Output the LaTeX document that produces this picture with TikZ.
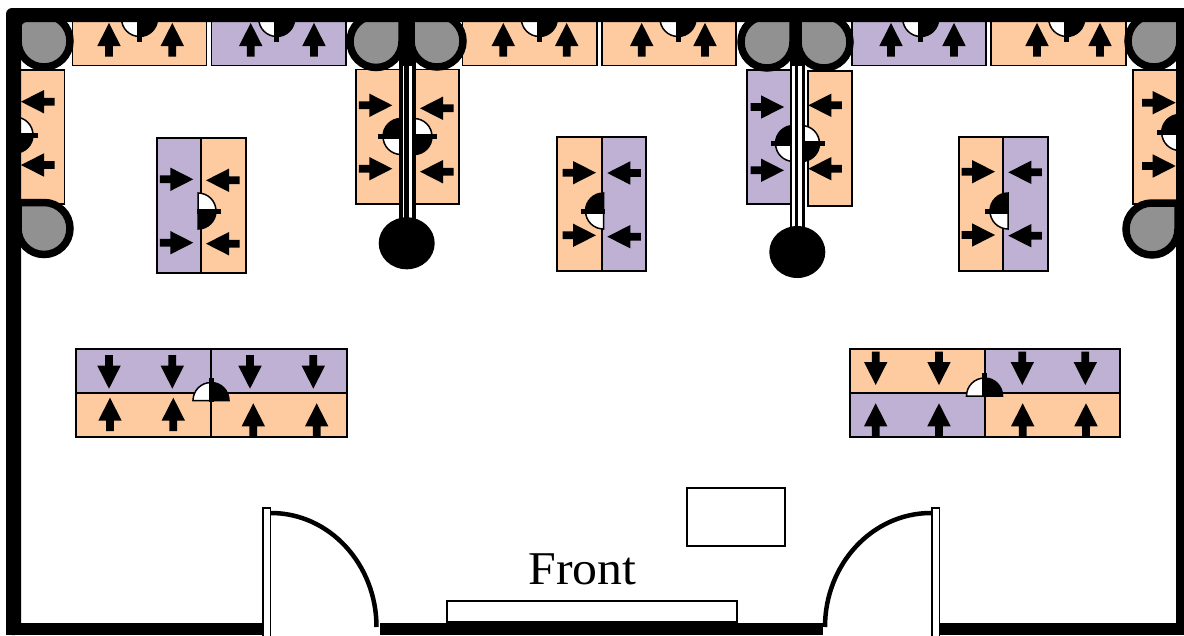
\documentclass[tikz,border=0pt]{standalone}
\usepackage{fontspec}
\newfontfamily\frontfont[FakeStretch=1.06]{Liberation Serif}
\definecolor{deskO}{HTML}{FDCB9F}
\definecolor{deskP}{HTML}{BFB1D3}
\definecolor{chairG}{HTML}{919191}
\tikzset{
  deskbox/.style={draw=black,line width=1.7pt},
  plainbox/.style={draw=black,fill=white,line width=1.9pt},
  wallfill/.style={fill=black},
}
% desk: x1 y1 x2 y2 colour
\newcommand{\desk}[5]{\path[deskbox,fill=#5] (#1,#2) rectangle (#3,#4);}
% arrow: tip x, tip y, rotation
\newcommand{\arr}[3]{\begin{scope}[shift={(#1,#2)},rotate=#3]
  \fill[black] (0,0) -- (11.7,23) -- (3.9,23) -- (3.9,33.5) -- (-3.9,33.5) -- (-3.9,23) -- (-11.7,23) -- cycle;
\end{scope}}
% seat: cx cy rotation mirror
\newcommand{\seat}[4]{\begin{scope}[shift={(#1,#2)},rotate=#3,xscale=#4]
  \draw[black,fill=white,line width=1.5pt] (0,0) -- (-18,0) arc[start angle=180,end angle=90,radius=18] -- cycle;
  \draw[black,fill=black,line width=1.5pt] (0,0) -- (18,0) arc[start angle=0,end angle=90,radius=18] -- cycle;
  \fill[black] (-2.5,-1) rectangle (2.5,23);
\end{scope}}
% chair: cx cy mirror
\newcommand{\chair}[3]{\begin{scope}[shift={(#1,#2)},xscale=#3]
  \draw[black,fill=chairG,line width=7.5pt] (-26,-26) -- (0,-26) arc[start angle=-90,end angle=180,radius=26] -- cycle;
\end{scope}}
\begin{document}
\begin{tikzpicture}[x=1pt,y=-1pt]
\useasboundingbox (0,0) rectangle (1184,635);
\fill[white] (0,0) rectangle (1184,635);
% top row desks
\desk{72.5}{18}{206.5}{65.5}{deskO}
\desk{211.5}{18}{346}{65.5}{deskP}
\desk{462.5}{18}{596.7}{65.5}{deskO}
\desk{601.7}{18}{736}{65.5}{deskO}
\desk{851.7}{18}{986}{65.5}{deskP}
\desk{990.7}{18}{1125.7}{65.5}{deskO}
% wall desks
\desk{15}{70}{64.5}{204}{deskO}
\desk{1132.7}{70}{1180}{204}{deskO}
% pillar desks
\desk{355.7}{69.5}{405}{204}{deskO}
\desk{410}{69.5}{459.3}{204}{deskO}
\desk{746.7}{69.7}{791}{204}{deskP}
\desk{807.7}{71}{852}{205.7}{deskO}
% island groups
\desk{156.7}{137.7}{201.3}{272.7}{deskP}
\desk{201.3}{137.7}{246}{272.7}{deskO}
\desk{557.3}{136.7}{602}{271}{deskO}
\desk{602}{136.7}{646}{271}{deskP}
\desk{959}{136.7}{1003.3}{271}{deskO}
\desk{1003.3}{136.7}{1047.7}{271}{deskP}
% bottom groups
\desk{76}{349}{211}{393.3}{deskP}
\desk{211}{349}{346.7}{393.3}{deskP}
\desk{76}{393.3}{211}{437.3}{deskO}
\desk{211}{393.3}{346.7}{437.3}{deskO}
\desk{850}{349}{985}{393.3}{deskO}
\desk{985}{349}{1120.3}{393.3}{deskP}
\desk{850}{393.3}{985}{437.3}{deskP}
\desk{985}{393.3}{1120.3}{437.3}{deskO}
% top row arrows
\foreach \x in {109,172.3,250.7,314,503.3,566.7,641.7,705,891,954,1037,1100}{\arr{\x}{23}{0}}
% wall desks arrows
\arr{21}{101.7}{90}\arr{21}{165}{90}
\arr{1175.7}{102.7}{-90}\arr{1175.7}{166}{-90}
% pillars arrows
\arr{392.3}{105.3}{-90}\arr{392.3}{168.7}{-90}
\arr{420}{108.3}{90}\arr{420}{171.7}{90}
\arr{784}{107}{-90}\arr{784}{170.3}{-90}
\arr{808.3}{105.3}{90}\arr{808.3}{168.7}{90}
% island arrows
\arr{193.3}{179.3}{-90}\arr{193.3}{242.7}{-90}
\arr{206}{180.3}{90}\arr{206}{243.7}{90}
\arr{596}{172.7}{-90}\arr{596}{235.3}{-90}
\arr{607.3}{173}{90}\arr{607.3}{236.7}{90}
\arr{995}{171.7}{-90}\arr{995}{235}{-90}
\arr{1008.3}{172.3}{90}\arr{1008.3}{235.7}{90}
% bottom group arrows
\foreach \x in {109,172.3,250,313.3}{\arr{\x}{388.7}{180}}
\arr{110}{397.7}{0}\arr{173.3}{397.7}{0}\arr{253.3}{403.3}{0}\arr{316.7}{403.3}{0}
\foreach \x in {875.7,939,1022.3,1085.3}{\arr{\x}{385}{180}}
\foreach \x in {875.7,939,1022.7,1086}{\arr{\x}{403.3}{0}}
% seats
\foreach \x in {139.5,276.7,539.3,678,920.7,1066.7}{\seat{\x}{18.5}{0}{1}}
\seat{15}{135}{90}{-1}
\seat{198}{211}{90}{-1}
\seat{401}{136.5}{-90}{-1}
\seat{414}{136.5}{90}{-1}
\seat{603.5}{211}{-90}{-1}
\seat{793.5}{143.5}{-90}{-1}
\seat{801.5}{143.5}{90}{-1}
\seat{1008}{211}{-90}{-1}
\seat{1179.7}{132.5}{-90}{-1}
\seat{211}{400.5}{180}{-1}
\seat{984.5}{396}{180}{-1}
% pillars
\fill[black] (399,20) rectangle (415.7,225);
\fill[white] (402.5,66) rectangle (404.3,225);
\fill[white] (409.3,66) rectangle (411.5,225);
\fill[black] (790,20) rectangle (805.3,235);
\fill[white] (792.3,66) rectangle (795.3,235);
\fill[white] (798.3,66) rectangle (802,235);
\fill[black] (406.7,243.3) ellipse[x radius=28,y radius=26];
\fill[black] (797.3,252) ellipse[x radius=28,y radius=26];
% gray chairs
\chair{44}{41}{1}
\chair{44}{228.5}{1}
\chair{376}{41.5}{-1}
\chair{437}{41}{1}
\chair{767}{42}{-1}
\chair{824}{42}{1}
\chair{1154}{41}{-1}
\chair{1152}{229}{-1}
% walls
\fill[wallfill,rounded corners=6pt] (6,635) -- (6,8) -- (1184,8) -- (1184,22) -- (21,22) -- (21,635) -- cycle;
\fill[wallfill] (1176,8) rectangle (1184,623.3);
\fill[wallfill] (6,623.3) rectangle (262.5,635);
\fill[wallfill] (380,623.3) rectangle (823,635);
\fill[wallfill] (939,623.3) rectangle (1184,635);
% doors
\path[plainbox] (262.7,507.7) rectangle (270.5,637);
\path[plainbox] (931.9,507.7) rectangle (939.5,637);
\draw[black,line width=4.5pt] (271,513) arc[start angle=-90,end angle=0,x radius=105.5,y radius=114];
\draw[black,line width=4.5pt] (931,513) arc[start angle=-90,end angle=-180,x radius=106,y radius=114];
% furniture
\path[plainbox] (446.7,601) rectangle (737.3,621.7);
\path[plainbox] (687.3,487.7) rectangle (784.7,546);
\node[anchor=base,inner sep=0pt,font=\frontfont\fontsize{47}{52}\selectfont] (front) at (582.5,584) {Front};
\end{tikzpicture}
\end{document}
